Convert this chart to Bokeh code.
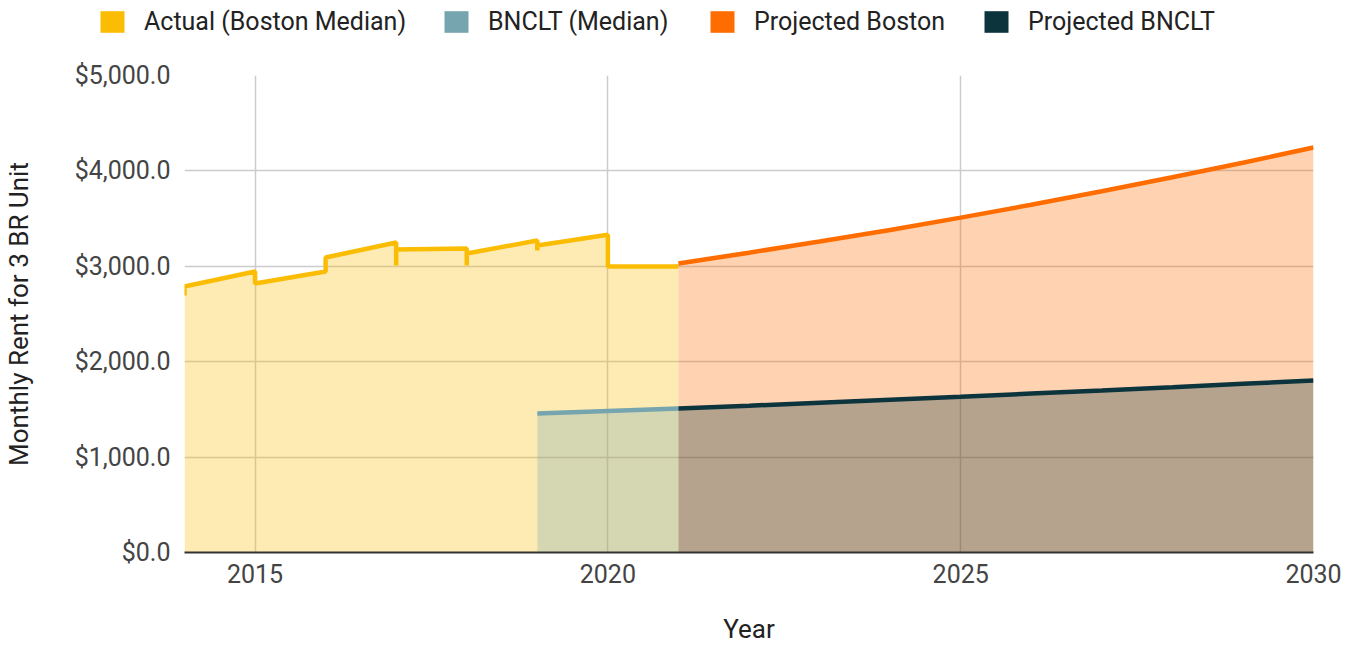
from bokeh.plotting import figure
from bokeh.layouts import column, row
from bokeh.models import Legend, LegendItem, FixedTicker, NumeralTickFormatter, Range1d
from bokeh.embed import file_html
from bokeh.resources import INLINE

# ---- data ----
actual_years = [2014.0, 2014.0, 2015.0, 2015.0, 2016.0, 2016.0, 2017.0, 2017.0, 2017.0,
                2018.0, 2018.0, 2018.0, 2019.0, 2019.0, 2019.0, 2020.0, 2020.0, 2021.0]
actual_rent = [2694, 2788, 2945, 2820, 2945, 3092, 3250, 3008, 3176,
               3187, 3008, 3134, 3270, 3166, 3218, 3330, 2998, 2998]

bnclt_years = [2019, 2020, 2021]
bnclt_rent = [1457, 1483, 1509]

proj_years = [2021, 2022, 2023, 2024, 2025, 2026, 2027, 2028, 2029, 2030]
proj_boston = [3030, 3143, 3260, 3381, 3510, 3645, 3787, 3934, 4086, 4245]
proj_bnclt = [1509, 1539, 1570, 1601, 1633, 1666, 1699, 1733, 1768, 1803]

series_names = ["Actual (Boston Median)", "BNCLT (Median)", "Projected Boston", "Projected BNCLT"]
colors = ["#FBBC04", "#76A5AF", "#FF6D01", "#0C343D"]

x_ticks = [2015, 2020, 2025, 2030]
y_ticks = [0, 1000, 2000, 3000, 4000, 5000]

FONT = "Roboto"
LEG_X = [97, 441, 707, 981]   # legend item positions (screen px)

# ---- legend strip ----
LG_H = 48
lg = figure(width=1350, height=LG_H, x_range=Range1d(0, 1), y_range=Range1d(0, 1),
            x_axis_type=None, y_axis_type=None, output_backend="svg", toolbar_location=None,
            min_border=0)
lg.outline_line_color = None
lg.grid.visible = False
for name, c, lx in zip(series_names, colors, LEG_X):
    # proxy swatch renderer (kept outside the visible range)
    r = lg.quad(left=[-3], right=[-2], top=[-2], bottom=[-3], fill_color=c, line_color=None)
    leg = Legend(items=[LegendItem(label=name, renderers=[r])], location=(lx, LG_H - 36),
                 glyph_width=30, glyph_height=27, label_height=27, label_standoff=17,
                 padding=0, margin=0, border_line_color=None, background_fill_alpha=0,
                 label_text_font=FONT, label_text_font_size="25px", label_text_color="#222222")
    lg.add_layout(leg)

# ---- main chart ----
P_H = 602
TOP = 75 - LG_H
p = figure(width=1350, height=P_H, x_range=Range1d(2014, 2030), y_range=Range1d(0, 5000),
           output_backend="svg", toolbar_location=None,
           min_border_left=184, min_border_right=37, min_border_top=TOP,
           min_border_bottom=P_H - TOP - 477)
p.outline_line_color = None
p.background_fill_color = "white"

series = [(actual_years, actual_rent), (bnclt_years, bnclt_rent),
          (proj_years, proj_boston), (proj_years, proj_bnclt)]

for (xs, ys), c in zip(series, colors):
    p.varea(x=xs, y1=0, y2=ys, fill_color=c, fill_alpha=0.3)
for (xs, ys), c in zip(series, colors):
    p.line(x=xs, y=ys, line_color=c, line_width=4.5)

p.xaxis.ticker = FixedTicker(ticks=x_ticks)
p.xaxis.axis_label = "Year"
p.xaxis.axis_line_color = "#333333"
p.xaxis.axis_line_width = 1.8
p.xaxis.major_label_standoff = 11
p.xaxis.axis_label_standoff = 28

p.yaxis.ticker = FixedTicker(ticks=y_ticks)
p.yaxis.formatter = NumeralTickFormatter(format="$0,0.0")
p.yaxis.axis_label = "Monthly Rent for 3 BR Unit"
p.yaxis.axis_line_color = None
p.yaxis.major_label_standoff = 14
p.yaxis.axis_label_standoff = 38

for ax in (p.xaxis, p.yaxis):
    ax.major_tick_line_color = None
    ax.minor_tick_line_color = None
    ax.major_tick_out = 0
    ax.major_tick_in = 0
    ax.minor_tick_out = 0
    ax.major_label_text_font = FONT
    ax.major_label_text_font_size = "25px"
    ax.major_label_text_color = "#444444"
    ax.axis_label_text_font = FONT
    ax.axis_label_text_font_size = "26px"
    ax.axis_label_text_font_style = "normal"
    ax.axis_label_text_color = "#222222"

p.xgrid.ticker = FixedTicker(ticks=x_ticks)
p.ygrid.ticker = FixedTicker(ticks=y_ticks)
p.grid.grid_line_color = "#cccccc"
p.grid.grid_line_width = 1.5

layout = column(row(lg), p)
open("out.html", "w").write(file_html(layout, INLINE))
